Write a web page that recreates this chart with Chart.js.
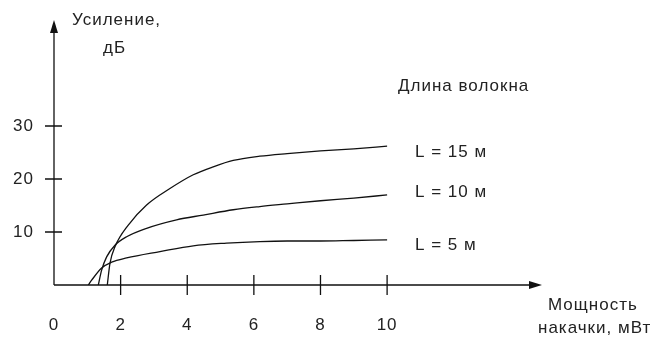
<!DOCTYPE html>
<html>
<head>
<meta charset="utf-8">
<script src="https://cdn.jsdelivr.net/npm/chart.js@4/dist/chart.umd.min.js"></script>
<style>
html,body{margin:0;padding:0;background:#fff;}
#wrap{width:656px;height:338px;position:relative;}
</style>
</head>
<body>
<div id="wrap"><canvas id="c" width="656" height="338"></canvas></div>
<script>
// Data
const seriesNames = ["L = 15 м", "L = 10 м", "L = 5 м"];
const l15X = [1.6, 1.68, 1.83, 2.23, 2.78, 3.48, 4.18, 4.78, 5.38, 6.18, 7.0, 8.0, 9.0, 10.0];
const l15Y = [0, 4.1, 7.2, 11.3, 15.1, 18.2, 20.8, 22.3, 23.5, 24.3, 24.8, 25.3, 25.7, 26.2];
const l10X = [1.33, 1.43, 1.58, 1.83, 2.18, 2.78, 3.68, 4.48, 5.38, 6.18, 7.0, 8.0, 9.0, 10.0];
const l10Y = [0, 2.8, 5.3, 7.5, 9.1, 10.7, 12.3, 13.2, 14.2, 14.8, 15.3, 15.9, 16.4, 17.0];
const l5X  = [1.03, 1.13, 1.43, 1.73, 2.18, 3.18, 4.18, 5.18, 6.18, 7.0, 8.0, 9.0, 10.0];
const l5Y  = [0, 0.9, 3.2, 4.3, 5.1, 6.3, 7.4, 7.9, 8.2, 8.3, 8.3, 8.4, 8.5];
const xTicks = [0, 2, 4, 6, 8, 10];
const yTicks = [10, 20, 30];
const yTitle = ["Усиление,", "дБ"];
const xTitle = ["Мощность", "накачки, мВт"];
const legendTitle = "Длина волокна";

function pts(xs, ys){ return xs.map((x,i)=>({x:x, y:ys[i]})); }

const FONT = '17px "Liberation Sans", Arial, sans-serif';
const INK = '#222';

const axesPlugin = {
  id: 'axesPlugin',
  afterDatasetsDraw(chart){
    const ctx = chart.ctx;
    const xs = chart.scales.x, ys = chart.scales.y;
    const x0 = xs.getPixelForValue(0), y0 = ys.getPixelForValue(0);
    const xEnd = xs.getPixelForValue(xs.max), yEnd = ys.getPixelForValue(ys.max);
    ctx.save();
    ctx.strokeStyle = '#111';
    ctx.fillStyle = '#111';
    ctx.lineWidth = 1.3;
    ctx.beginPath();
    ctx.moveTo(x0, y0); ctx.lineTo(xEnd - 8, y0);
    ctx.moveTo(x0, y0); ctx.lineTo(x0, yEnd + 8);
    ctx.stroke();
    ctx.beginPath();
    ctx.moveTo(xEnd, y0); ctx.lineTo(xEnd - 13, y0 - 4); ctx.lineTo(xEnd - 13, y0 + 4); ctx.closePath();
    ctx.fill();
    ctx.beginPath();
    ctx.moveTo(x0, yEnd); ctx.lineTo(x0 - 4, yEnd + 13); ctx.lineTo(x0 + 4, yEnd + 13); ctx.closePath();
    ctx.fill();
    ctx.beginPath();
    xTicks.forEach(v=>{ if(v===0) return; const p = xs.getPixelForValue(v); ctx.moveTo(p, y0-10); ctx.lineTo(p, y0+10); });
    yTicks.forEach(v=>{ const p = ys.getPixelForValue(v); ctx.moveTo(x0-9, p); ctx.lineTo(x0+8, p); });
    ctx.stroke();
    ctx.font = FONT;
    ctx.fillStyle = INK;
    ctx.letterSpacing = '1px';
    ctx.textBaseline = 'middle';
    ctx.textAlign = 'center';
    xTicks.forEach(v=>{ ctx.fillText(String(v), xs.getPixelForValue(v), y0 + 40); });
    ctx.textAlign = 'right';
    yTicks.forEach(v=>{ ctx.fillText(String(v), x0 - 20, ys.getPixelForValue(v)); });
    ctx.textAlign = 'left';
    ctx.fillText(yTitle[0], 72, 20);
    ctx.fillText(yTitle[1], 103, 48);
    ctx.fillText(xTitle[0], 548, 305);
    ctx.fillText(xTitle[1], 538, 328);
    ctx.fillText(legendTitle, 398, 86);
    ctx.fillText(seriesNames[0], 415, 152);
    ctx.fillText(seriesNames[1], 415, 192);
    ctx.fillText(seriesNames[2], 415, 245);
    ctx.restore();
  }
};

const mk = (label, data) => ({
  label: label, data: data, borderColor: '#111', borderWidth: 1.3,
  pointRadius: 0, fill: false, tension: 0.4, cubicInterpolationMode: 'monotone'
});

new Chart(document.getElementById('c'), {
  type: 'line',
  data: { datasets: [ mk(seriesNames[0], pts(l15X, l15Y)), mk(seriesNames[1], pts(l10X, l10Y)), mk(seriesNames[2], pts(l5X, l5Y)) ] },
  options: {
    responsive: false,
    animation: false,
    devicePixelRatio: 1,
    layout: { padding: { left: 54, right: 114, top: 20, bottom: 53 } },
    plugins: { legend: { display: false }, tooltip: { enabled: false } },
    scales: {
      x: { type: 'linear', min: 0, max: 14.65, display: false },
      y: { type: 'linear', min: 0, max: 50, display: false }
    }
  },
  plugins: [axesPlugin]
});
</script>
</body>
</html>
